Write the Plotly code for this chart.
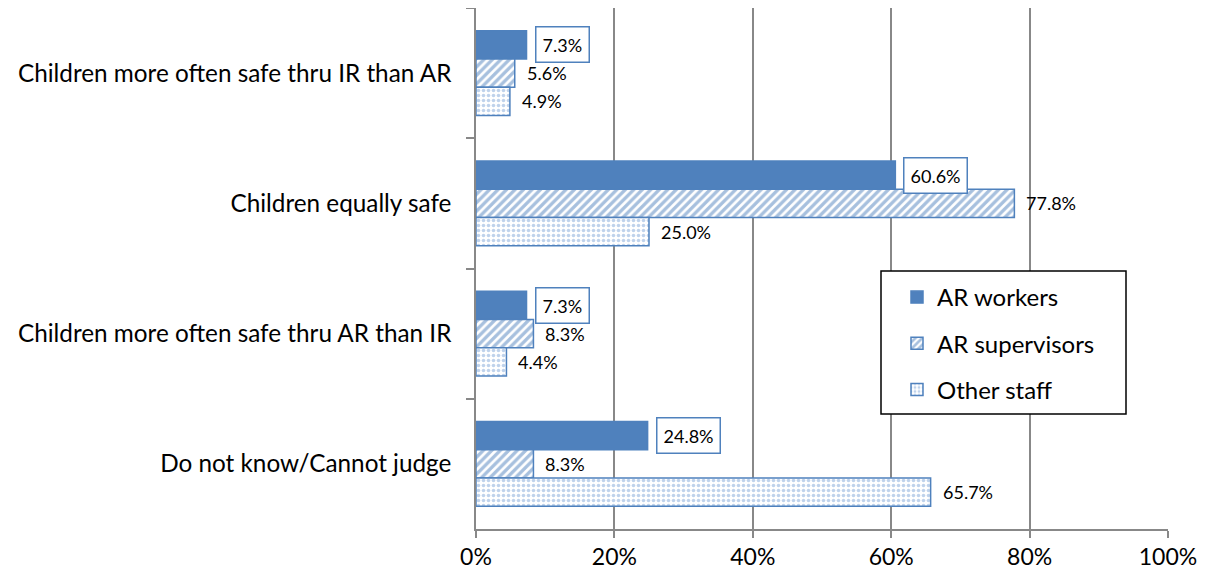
import plotly.graph_objects as go

categories = [
    "Children more often safe thru IR than AR",
    "Children equally safe",
    "Children more often safe thru AR than IR",
    "Do not know/Cannot judge",
]
series_names = ["AR workers", "AR supervisors", "Other staff"]
ar_workers = [7.3, 60.6, 7.3, 24.8]
ar_supervisors = [5.6, 77.8, 8.3, 8.3]
other_staff = [4.9, 25.0, 4.4, 65.7]
x_ticks = [0, 20, 40, 60, 80, 100]
x_tick_labels = ["0%", "20%", "40%", "60%", "80%", "100%"]

FONT = "Lato, Carlito, Calibri, sans-serif"
BLUE = "#4F81BD"

values = [ar_workers, ar_supervisors, other_staff]
patterns = [
    dict(shape=""),
    dict(shape="/", fgcolor=BLUE, bgcolor="white", size=6, solidity=0.55),
    dict(shape=".", fgcolor="#7FA6D8", bgcolor="white", size=5, solidity=0.4),
]

fig = go.Figure()
for name, vals, pat in zip(series_names, values, patterns):
    fig.add_trace(go.Bar(
        y=categories, x=vals, name=name, orientation="h",
        legendgroup=name,
        marker=dict(color=BLUE if pat["shape"] == "" else "white",
                    pattern=pat, line=dict(color=BLUE, width=1.5)),
        hoverinfo="skip",
    ))

# layout geometry (page body has an 8px margin)
W, H = 1201, 569
margin = dict(l=468, r=41, t=0, b=48)
plot_w = W - margin["l"] - margin["r"]
plot_h = H - margin["t"] - margin["b"]
cat_px = plot_h / len(categories)
bargap = 0.35
bar_px = cat_px * (1 - bargap) / len(series_names)

for si, vals in enumerate(values):
    yshift = (1 - si) * bar_px  # first series on top
    for cat, v in zip(categories, vals):
        boxed = si == 0
        fig.add_annotation(
            x=v, y=cat, xref="x", yref="y",
            text=f"{v:.1f}%", showarrow=False,
            xanchor="left", yanchor="middle",
            xshift=8 if boxed else 6, yshift=yshift,
            font=dict(family=FONT, size=18, color="black"),
            bordercolor=BLUE if boxed else "rgba(0,0,0,0)",
            borderwidth=1.5 if boxed else 0,
            borderpad=6,
            bgcolor="white" if boxed else "rgba(0,0,0,0)",
        )


def px_x(px):  # figure pixel -> paper fraction
    return (px - margin["l"]) / plot_w


def px_y(px):
    return (H - margin["b"] - px) / plot_h


# legend frame (reference: 881..1126 x 271..414 on screen; minus 8px body offset)
fig.add_shape(type="rect", xref="paper", yref="paper",
              x0=px_x(873), x1=px_x(1118), y0=px_y(406), y1=px_y(263),
              line=dict(color="black", width=1.5), fillcolor="white",
              layer="above")

fig.update_layout(
    width=W, height=H,
    margin=margin,
    barmode="group",
    bargap=bargap,
    bargroupgap=0,
    plot_bgcolor="white",
    paper_bgcolor="white",
    font=dict(family=FONT, size=24, color="black"),
    legend=dict(
        x=px_x(889), y=px_y(267),
        xanchor="left", yanchor="top",
        borderwidth=0, bgcolor="rgba(0,0,0,0)",
        font=dict(family=FONT, size=24, color="black"),
        traceorder="grouped", tracegroupgap=12,
        itemwidth=30,
    ),
    xaxis=dict(
        range=[0, 100], tickvals=x_ticks, ticktext=x_tick_labels,
        showgrid=True, gridcolor="#888888", gridwidth=1.5,
        showline=True, linecolor="#888888", linewidth=1.5,
        ticks="outside", ticklen=7, tickcolor="#888888", tickwidth=1.5,
        zeroline=False,
        tickfont=dict(family=FONT, size=23),
        automargin=False,
    ),
    yaxis=dict(
        autorange="reversed",
        showline=True, linecolor="#888888", linewidth=1.5,
        ticks="outside", ticklen=8, tickcolor="#888888", tickwidth=1.5,
        tickson="boundaries",
        showgrid=False,
        ticklabelstandoff=18,
        tickfont=dict(family=FONT, size=24.3),
        automargin=False,
    ),
)

fig.write_html("out.html")
